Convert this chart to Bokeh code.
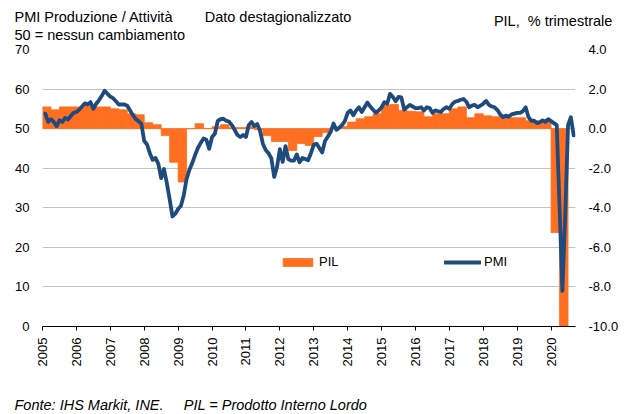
import pandas as pd
from bokeh.plotting import figure
from bokeh.models import (Range1d, LinearAxis, FixedTicker, PrintfTickFormatter,
                          Legend, LegendItem, Title, ColumnDataSource)
from bokeh.embed import file_html
from bokeh.resources import INLINE
import math

# ---- data ----
years = list(range(2005, 2021))
left_ticks = [0, 10, 20, 30, 40, 50, 60, 70]
right_ticks = [-10, -8, -6, -4, -2, 0, 2, 4]

# PMI output / activity, monthly from Jan 2005 to Aug 2020
pmi = [
    53.8, 51.7, 52.4, 51.7, 50.6, 52.1, 51.7, 52.7, 52.3, 53.2, 54.0, 54.2,
    54.8, 55.6, 56.4, 56.1, 56.7, 55.0, 56.3, 57.2, 58.3, 59.6, 58.8, 58.1,
    57.7, 56.9, 56.1, 56.1, 56.1, 55.8, 54.6, 53.4, 52.4, 51.9, 51.2, 46.9,
    46.0, 43.8, 42.1, 42.6, 41.1, 37.5, 39.8, 36.3, 32.2, 27.8, 28.5, 29.7,
    30.5, 33.2, 37.3, 39.6, 41.3, 43.3, 45.1, 46.4, 47.5, 47.2, 44.9, 47.9,
    48.7, 51.9, 52.4, 52.5, 52.0, 51.8, 50.9, 49.7, 48.4, 47.9, 48.4, 47.9,
    50.9, 51.7, 50.6, 51.2, 49.4, 46.2, 44.6, 43.8, 42.5, 37.8, 40.3, 44.8,
    41.6, 45.6, 42.3, 41.9, 41.9, 43.5, 41.5, 42.6, 42.3, 42.0, 43.8, 45.9,
    46.2, 45.1, 44.0, 46.9, 48.0, 49.2, 51.3, 49.7, 50.2, 50.9, 51.9, 54.0,
    54.6, 53.4, 54.6, 55.4, 54.2, 55.4, 56.6, 55.6, 54.8, 54.0, 54.6, 55.4,
    56.7, 56.3, 58.8, 58.0, 56.9, 58.0, 57.9, 54.8, 55.4, 56.0, 55.6, 55.2,
    55.2, 55.4, 54.6, 55.4, 55.2, 54.0, 54.6, 54.4, 54.2, 55.0, 55.4, 55.0,
    56.2, 56.8, 57.0, 57.3, 57.5, 56.8, 55.4, 55.8, 56.0, 55.4, 55.8, 56.3,
    57.0, 56.0, 55.6, 55.4, 54.7, 53.6, 52.9, 53.3, 53.0, 53.6, 53.8, 54.0,
    54.0, 54.4, 55.4, 52.9, 52.0, 52.0, 51.4, 51.6, 52.1, 51.7, 52.4, 51.9,
    51.4, 50.9, 30.2, 9.0, 28.2, 50.9, 52.9, 48.3,
]

# PIL (GDP), % quarter on quarter, 2005Q1 to 2020Q2
pil = [
    1.1, 0.95, 1.1, 1.1,
    1.1, 1.15, 1.1, 1.1,
    1.0, 0.95, 0.75, 0.7,
    0.3, 0.2, -0.35, -1.7,
    -2.7, 0.0, 0.25, 0.0,
    0.1, 0.2, 0.05, 0.05,
    0.1, -0.05, -0.35, -0.65,
    -0.65, -1.1, -0.75, -0.85,
    -0.4, -0.2, 0.05, 0.1,
    0.33, 0.5, 0.6, 0.75,
    1.18, 1.22, 0.92, 0.88,
    0.85, 0.6, 0.75, 0.75,
    1.0, 1.1, 0.55, 0.75,
    0.65, 0.6, 0.6, 0.55,
    0.55, 0.4, 0.4, 0.4,
    -5.25, -18.5,
]

ORANGE = "#FF6F1F"
NAVY = "#1F4A7D"
FONT = "Liberation Sans"
NB = "\u00a0"

pmi_dates = pd.date_range("2005-01-31", periods=len(pmi), freq="ME")
pmi_x = [d.year + d.month / 12 for d in pmi_dates]
quarters = pd.period_range("2005Q1", periods=len(pil), freq="Q")
pil_x = [q.year + (q.quarter - 1) * 0.25 + 0.125 for q in quarters]

pmi_src = ColumnDataSource(dict(x=pmi_x, y=pmi))
pil_src = ColumnDataSource(dict(x=pil_x, top=pil, bottom=[0] * len(pil)))

p = figure(title=None, frame_width=533, frame_height=277,
           min_border_left=42, min_border_right=58,
           min_border_top=49, min_border_bottom=87,
           x_range=Range1d(2005, 2020.72), y_range=Range1d(0, 70),
           output_backend="svg", toolbar_location=None)
p.extra_y_ranges = {"pil": Range1d(-10, 4)}
p.outline_line_color = None
p.background_fill_color = "white"
p.border_fill_color = "white"

# grid
p.xgrid.visible = False
p.ygrid.ticker = FixedTicker(ticks=left_ticks)
p.ygrid.grid_line_color = "#C4C4C4"
p.ygrid.grid_line_width = 1.2

# left axis
ya = p.yaxis[0]
ya.ticker = FixedTicker(ticks=left_ticks)
ya.axis_line_color = None
ya.major_tick_line_color = None
ya.minor_tick_line_color = None
ya.major_tick_out = 0
ya.major_tick_in = 0
ya.major_label_standoff = 13
ya.major_label_text_font = FONT
ya.major_label_text_font_size = "13px"
ya.major_label_text_color = "black"

# right axis
ra = LinearAxis(y_range_name="pil", ticker=FixedTicker(ticks=right_ticks),
                formatter=PrintfTickFormatter(format="%.1f"))
ra.axis_line_color = None
ra.major_tick_line_color = None
ra.minor_tick_line_color = None
ra.major_tick_out = 0
ra.major_tick_in = 0
ra.major_label_standoff = 13
ra.major_label_text_font = FONT
ra.major_label_text_font_size = "13px"
ra.major_label_text_color = "black"
p.add_layout(ra, "right")

# bottom axis
xa = p.xaxis[0]
xa.ticker = FixedTicker(ticks=years)
xa.major_label_overrides = {y: str(y) for y in years}
xa.major_label_orientation = math.pi / 2
xa.axis_line_color = "black"
xa.axis_line_width = 1
xa.major_tick_line_color = "black"
xa.major_tick_out = 4
xa.major_tick_in = 0
xa.minor_tick_line_color = None
xa.major_label_standoff = 7
xa.major_label_text_font = FONT
xa.major_label_text_font_size = "13px"
xa.major_label_text_color = "black"
xa.axis_label = NB
xa.axis_label_standoff = 11
xa.axis_label_text_font_size = "10px"

# glyphs
bars = p.vbar(x="x", top="top", bottom="bottom", width=0.25, source=pil_src,
              y_range_name="pil", fill_color=ORANGE, line_color=ORANGE, line_width=0.8)
line = p.line(x="x", y="y", source=pmi_src, line_color=NAVY, line_width=3.8,
              line_join="round", line_cap="round")

# legends
for label, rend, xloc in [("PIL", bars, 237), ("PMI", line, 402)]:
    lg = Legend(items=[LegendItem(label=label, renderers=[rend])],
                location=(xloc, 57), orientation="horizontal",
                glyph_width=37, glyph_height=10, label_height=10,
                label_standoff=3, padding=0, margin=0, spacing=0,
                border_line_color=None, background_fill_alpha=0,
                label_text_font=FONT, label_text_font_size="13px",
                label_text_color="black")
    p.add_layout(lg, "center")

# header / footer texts (titles live outside the frame)
def make_title(txt, standoff, fallback, italic=False, line_height=1.0):
    t = Title(text=txt, align="left", offset=-28, vertical_align="bottom",
              text_font=FONT, text_font_size="14.5px",
              text_font_style="italic" if italic else "normal",
              text_color="black", text_line_height=line_height)
    try:
        t.standoff = standoff
    except Exception:
        t.standoff = fallback
    return t

line1 = "PMI Produzione / Attività" + NB * 8 + "Dato destagionalizzato"
line1b = NB * 119 + "PIL," + NB + " % trimestrale"
p.add_layout(make_title("50 = nessun cambiamento", 13, 13), "above")
p.add_layout(make_title(line1 + "\n" + line1b, -21.6, 0, line_height=0.247), "above")
p.add_layout(make_title("Fonte: IHS Markit, INE." + NB * 5 + "PIL = Prodotto Interno Lordo",
                        0, 0, italic=True), "below")

open("out.html", "w").write(file_html(p, INLINE))
